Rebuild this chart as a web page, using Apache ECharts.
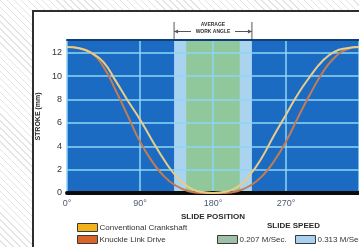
<!DOCTYPE html>
<html>
<head>
<meta charset="utf-8">
<script src="https://cdn.jsdelivr.net/npm/echarts@6/dist/echarts.min.js"></script>
<style>
  html, body { margin: 0; padding: 0; }
  body {
    width: 359px; height: 247px; overflow: hidden;
    background: repeating-linear-gradient(45deg, #ffffff 0px, #ffffff 4px, #e4e4e4 4px, #e4e4e4 5px);
  }
  #chart { width: 359px; height: 247px; }
</style>
</head>
<body>
<div id="chart"></div>
<script>
// slide position in degrees
var degrees = [0, 15, 30, 45, 60, 75, 90, 105, 120, 135, 150, 165, 180,
               195, 210, 225, 240, 255, 270, 285, 300, 315, 330, 345, 360];
// stroke (mm)
var conventional = [12.5, 12.4, 12.0, 11.2, 9.6, 7.9, 6.3, 4.5, 2.8, 1.4, 0.5, 0.1, 0,
                    0.1, 0.5, 1.5, 3.0, 4.9, 6.7, 8.5, 10.0, 11.3, 12.1, 12.4, 12.5];
var knuckle = [12.5, 12.4, 12.0, 10.8, 8.8, 6.6, 4.4, 2.7, 1.4, 0.6, 0.15, 0, 0,
               0, 0.15, 0.6, 1.4, 2.7, 4.4, 6.5, 8.5, 10.3, 11.6, 12.3, 12.5];
// average work angle bands [from, to] in degrees
var speedNames = ['0.207 M/Sec.', '0.313 M/Sec.'];
var speedBands = [[147, 213], [132, 228]];

function pairs(ys) {
    return degrees.map(function (d, i) { return [d, ys[i]]; });
}

var font = "'Liberation Sans Narrow', 'Liberation Sans', sans-serif";
var myChart = echarts.init(document.getElementById('chart'));

// one legend box per item so nothing wraps near the edge
function legendItem(name, color, left, top) {
    return {
        left: left, top: top, width: 200, padding: 0,
        itemWidth: 20, itemHeight: 8, icon: 'rect',
        textStyle: { fontSize: 8, color: '#333', fontFamily: font, padding: [0, 0, 0, -3] },
        data: [{ name: name, itemStyle: { color: color, borderColor: '#3a3a3a', borderWidth: 1 } }]
    };
}

var option = {
    backgroundColor: 'transparent',
    animation: false,
    textStyle: { fontFamily: font },
    graphic: [
        {
            id: 'panel', type: 'rect', z: -10, silent: true,
            shape: { x: 33, y: 11, width: 400, height: 300 },
            style: { fill: '#ffffff', stroke: '#2e2e2e', lineWidth: 2 }
        },
        {
            id: 'speedTitle', type: 'text', left: 267, top: 222,
            style: { text: 'SLIDE SPEED', font: 'bold 8px ' + font, fill: '#2a2a2a' }
        }
    ],
    grid: {
        show: true, left: 67, top: 40, width: 302, height: 153,
        backgroundColor: '#1b6bc2', borderWidth: 0
    },
    legend: [
        legendItem('Conventional Crankshaft', '#f2b21c', 77, 223),
        legendItem('Knuckle Link Drive', '#d9642a', 77, 235),
        legendItem(speedNames[0], '#9fbfa6', 217, 235),
        legendItem(speedNames[1], '#a9d0ee', 295, 235)
    ],
    xAxis: [
        {
            type: 'value', min: 0, max: 360, interval: 90, z: 3,
            name: 'SLIDE POSITION', nameLocation: 'middle', nameGap: 17,
            nameTextStyle: { fontSize: 8, fontWeight: 'bold', color: '#2a2a2a', fontFamily: font },
            axisLine: { show: true, lineStyle: { color: '#0c0c0c', width: 4 } },
            axisTick: { show: false },
            axisLabel: {
                fontSize: 9, color: '#4a5a72', margin: 6, showMaxLabel: false,
                formatter: function (v) { return v + '°'; }
            },
            splitLine: { show: true, lineStyle: { color: '#8fd6f6', width: 1.5 } }
        },
        {
            type: 'value', position: 'top', min: 0, max: 360, z: 5,
            axisLine: { show: true, lineStyle: { color: '#123e78', width: 2 } },
            axisTick: { show: false }, axisLabel: { show: false }, splitLine: { show: false }
        }
    ],
    yAxis: {
        type: 'value', min: 0, max: 13.1, interval: 2, z: 3,
        name: 'STROKE (mm)', nameLocation: 'middle', nameGap: 22,
        nameTextStyle: { fontSize: 7, fontWeight: 'bold', color: '#2a2a2a', fontFamily: font },
        axisLine: { show: false }, axisTick: { show: false },
        axisLabel: { fontSize: 9, color: '#333', margin: 5, showMaxLabel: false },
        splitLine: { show: true, lineStyle: { color: '#8fd6f6', width: 1.5 } }
    },
    series: [
        {
            name: speedNames[1], type: 'line', data: [], z: 1,
            itemStyle: { color: '#a9d0ee' },
            markArea: {
                silent: true,
                itemStyle: { color: '#a9d3ee' },
                data: [[{ xAxis: speedBands[1][0] }, { xAxis: speedBands[1][1] }]]
            }
        },
        {
            name: speedNames[0], type: 'line', data: [], z: 2,
            itemStyle: { color: '#9fbfa6' },
            markArea: {
                silent: true,
                itemStyle: { color: '#90c89c' },
                data: [[{ xAxis: speedBands[0][0] }, { xAxis: speedBands[0][1] }]]
            }
        },
        {
            name: 'Knuckle Link Drive', type: 'line', smooth: true, z: 4,
            showSymbol: false, data: pairs(knuckle),
            itemStyle: { color: '#d9642a' },
            lineStyle: { color: '#c47c50', width: 2 }
        },
        {
            name: 'Conventional Crankshaft', type: 'line', smooth: true, z: 4,
            showSymbol: false, data: pairs(conventional),
            itemStyle: { color: '#f2b21c' },
            lineStyle: { color: '#e8cc8a', width: 2 }
        }
    ]
};

myChart.setOption(option);

// "AVERAGE WORK ANGLE" bracket above the wider band
var xl = myChart.convertToPixel({ xAxisIndex: 0 }, speedBands[1][0]);
var xr = myChart.convertToPixel({ xAxisIndex: 0 }, speedBands[1][1]);
var xc = (xl + xr) / 2;
var ink = { stroke: '#555', lineWidth: 1 };
myChart.setOption({
    graphic: [
        {
            id: 'waText', type: 'text', x: xc, y: 21,
            style: { text: 'AVERAGE\nWORK ANGLE', font: 'bold 5px ' + font, fill: '#333',
                     align: 'center', lineHeight: 7 }
        },
        { id: 'waL', type: 'line', shape: { x1: xl, y1: 22, x2: xl, y2: 40 }, style: ink },
        { id: 'waR', type: 'line', shape: { x1: xr, y1: 22, x2: xr, y2: 40 }, style: ink },
        { id: 'waA1', type: 'line', shape: { x1: xl, y1: 31.5, x2: xc - 22, y2: 31.5 }, style: ink },
        { id: 'waA2', type: 'line', shape: { x1: xc + 22, y1: 31.5, x2: xr, y2: 31.5 }, style: ink },
        { id: 'waH1', type: 'polygon', shape: { points: [[xl, 31.5], [xl + 4, 29.5], [xl + 4, 33.5]] }, style: { fill: '#555' } },
        { id: 'waH2', type: 'polygon', shape: { points: [[xr, 31.5], [xr - 4, 29.5], [xr - 4, 33.5]] }, style: { fill: '#555' } }
    ]
});
</script>
</body>
</html>
